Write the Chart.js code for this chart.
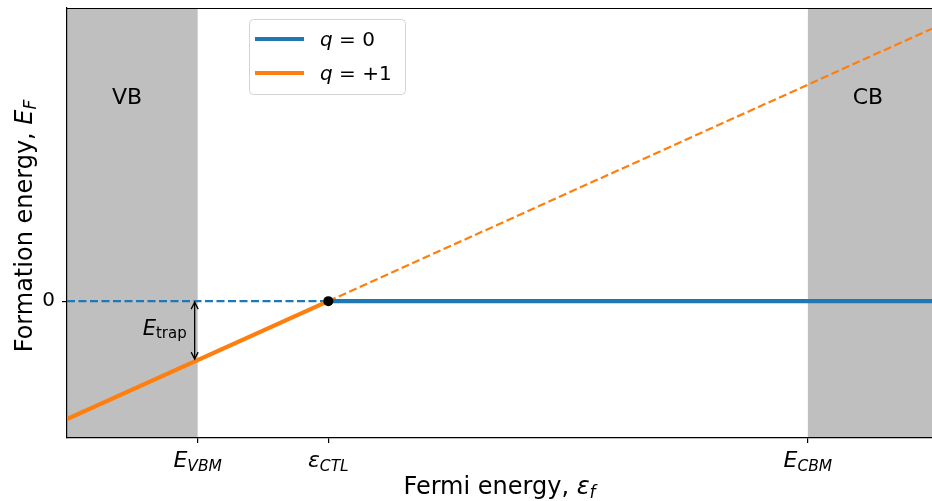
<!DOCTYPE html>
<html><head><meta charset="utf-8">
<script src="https://cdn.jsdelivr.net/npm/chart.js@4.4.0/dist/chart.umd.min.js"></script>
<style>html,body{margin:0;padding:0;background:#fff;} canvas{display:block;}</style>
</head><body>
<canvas id="c" width="932" height="501"></canvas>
<script>
// ---- data (Fermi energy on x, formation energy on y) ----
const fermiMin = -1;
const fermiMax = 5.62;
const energyMin = -2.32;
const energyMax = 4.97;
const xTickValues = [0, 1, 4.67];          // E_VBM, eps_CTL, E_CBM
const xTickSymbols = ['E', 'ε', 'E'];
const xTickSubs = ['VBM', 'CTL', 'CBM'];
const yTickValues = [0];
const yTickLabels = ['0'];
const leftX = [-1, 1];        // plot edge -> CTL
const rightX = [1, 5.62];     // CTL -> plot edge
const q0Left = [0, 0];
const q0Right = [0, 0];
const q1Left = [-2, 0];
const q1Right = [0, 4.62];
const ctlX = [1];
const ctlY = [0];
const trapRange = [0, -1];    // E_trap arrow (formation energy at VBM)
const seriesNames = ['0', '+1'];
const bandNames = ['VB', 'CB'];

const BLUE = '#1f77b4', ORANGE = '#ff7f0e', BAND = '#bfbfbf';
const FONT = '"DejaVu Sans", sans-serif';
const pts = (xs, ys) => xs.map((x, i) => ({ x, y: ys[i] }));

function drawRich(ctx, parts, x, y, align) {
  let w = 0;
  for (const p of parts) { ctx.font = p.font; w += ctx.measureText(p.text).width; }
  let cx = align === 'center' ? x - w / 2 : (align === 'right' ? x - w : x);
  ctx.textAlign = 'left'; ctx.textBaseline = 'alphabetic';
  for (const p of parts) {
    ctx.font = p.font;
    ctx.fillText(p.text, cx, y + (p.dy || 0));
    cx += ctx.measureText(p.text).width;
  }
}

const decor = {
  id: 'decor',
  beforeDraw(chart) {
    const { ctx, chartArea: a, scales: { x } } = chart;
    ctx.save();
    ctx.fillStyle = BAND;
    const xv = x.getPixelForValue(xTickValues[0]);
    const xc = x.getPixelForValue(xTickValues[2]);
    ctx.fillRect(a.left, a.top, xv - a.left, a.bottom - a.top);
    ctx.fillRect(xc, a.top, a.right - xc, a.bottom - a.top);
    ctx.restore();
  },
  afterDatasetsDraw(chart) {
    const { ctx, chartArea: a, scales: { x, y } } = chart;
    ctx.save();
    // top spine
    ctx.strokeStyle = '#000'; ctx.lineWidth = 1.2;
    ctx.beginPath(); ctx.moveTo(a.left, a.top + 0.5); ctx.lineTo(a.right, a.top + 0.5); ctx.stroke();
    // band labels
    ctx.fillStyle = '#000';
    ctx.font = '22px ' + FONT; ctx.textAlign = 'center'; ctx.textBaseline = 'middle';
    ctx.fillText(bandNames[0], x.getPixelForValue(-0.54), y.getPixelForValue(3.44));
    ctx.fillText(bandNames[1], x.getPixelForValue(5.13), y.getPixelForValue(3.44));
    // E_trap arrow
    const ax = x.getPixelForValue(xTickValues[0]) - 3;
    const y0 = y.getPixelForValue(trapRange[0]) + 1;
    const y1 = y.getPixelForValue(trapRange[1]) - 1;
    ctx.lineWidth = 1.3; ctx.strokeStyle = '#000';
    ctx.beginPath(); ctx.moveTo(ax, y0); ctx.lineTo(ax, y1); ctx.stroke();
    ctx.beginPath();
    ctx.moveTo(ax - 3.5, y0 + 7); ctx.lineTo(ax, y0); ctx.lineTo(ax + 3.5, y0 + 7);
    ctx.moveTo(ax - 3.5, y1 - 7); ctx.lineTo(ax, y1); ctx.lineTo(ax + 3.5, y1 - 7);
    ctx.stroke();
    drawRich(ctx, [
      { text: 'E', font: 'italic 21px ' + FONT },
      { text: 'trap', font: '15px ' + FONT, dy: 3 }
    ], ax - 8, (y0 + y1) / 2 + 4, 'right');
    // legend
    const lx = a.left + 182, ly = a.top + 11, lw = 156, lh = 75;
    ctx.fillStyle = 'rgba(255,255,255,0.85)';
    ctx.strokeStyle = '#d4d4d4'; ctx.lineWidth = 1;
    ctx.beginPath();
    ctx.roundRect(lx + 0.5, ly + 0.5, lw, lh, 4);
    ctx.fill(); ctx.stroke();
    const colors = [BLUE, ORANGE];
    for (let i = 0; i < 2; i++) {
      const yy = ly + 20 + i * 34;
      ctx.strokeStyle = colors[i]; ctx.lineWidth = 4.2;
      ctx.beginPath(); ctx.moveTo(lx + 6, yy); ctx.lineTo(lx + 55, yy); ctx.stroke();
      ctx.fillStyle = '#000';
      drawRich(ctx, [
        { text: 'q', font: 'italic 20px ' + FONT },
        { text: ' = ' + seriesNames[i], font: '20px ' + FONT }
      ], lx + 71, yy + 7, 'left');
    }
    ctx.restore();
  },
  afterDraw(chart) {
    const { ctx, chartArea: a, scales: { x } } = chart;
    ctx.save();
    ctx.fillStyle = '#000';
    for (let i = 0; i < xTickValues.length; i++) {
      drawRich(ctx, [
        { text: xTickSymbols[i], font: 'italic 22px ' + FONT },
        { text: xTickSubs[i], font: 'italic 15.5px ' + FONT, dy: 4 }
      ], x.getPixelForValue(xTickValues[i]), 467, 'center');
    }
    // x title
    drawRich(ctx, [
      { text: 'Fermi energy, ', font: '24px ' + FONT },
      { text: 'ε', font: 'italic 24px ' + FONT },
      { text: 'f', font: 'italic 17px ' + FONT, dy: 4 }
    ], (a.left + a.right) / 2, 494, 'center');
    // y title
    ctx.translate(32, (a.top + a.bottom) / 2 + 3);
    ctx.rotate(-Math.PI / 2);
    drawRich(ctx, [
      { text: 'Formation energy, ', font: '24px ' + FONT },
      { text: 'E', font: 'italic 24px ' + FONT },
      { text: 'F', font: 'italic 17px ' + FONT, dy: 4 }
    ], 0, 0, 'center');
    ctx.restore();
  }
};

const noPad = s => { s.paddingTop = 0; s.paddingBottom = 0; s.paddingLeft = 0; s.paddingRight = 0; };
const lineBase = { showLine: true, pointRadius: 0, borderCapStyle: 'butt', clip: 0, fill: false };
new Chart(document.getElementById('c'), {
  type: 'scatter',
  data: {
    datasets: [
      { label: 'CTL', data: pts(ctlX, ctlY), showLine: false, pointRadius: 5, pointBackgroundColor: '#000', pointBorderColor: '#000', pointBorderWidth: 0, order: 0 },
      { ...lineBase, label: 'q=+1', data: pts(leftX, q1Left), borderColor: ORANGE, borderWidth: 4.2, order: 1 },
      { ...lineBase, label: 'q=0', data: pts(rightX, q0Right), borderColor: BLUE, borderWidth: 4.2, order: 2 },
      { ...lineBase, label: 'q=+1 ext', data: pts(rightX, q1Right), borderColor: ORANGE, borderWidth: 2.2, borderDash: [8, 3.5], order: 3 },
      { ...lineBase, label: 'q=0 ext', data: pts(leftX, q0Left), borderColor: BLUE, borderWidth: 2.2, borderDash: [8, 3.5], order: 4 }
    ]
  },
  options: {
    responsive: false, animation: false, devicePixelRatio: 1,
    layout: { autoPadding: false, padding: { top: 8, right: 0, left: 0, bottom: 0 } },
    plugins: { legend: { display: false }, tooltip: { enabled: false } },
    scales: {
      x: {
        type: 'linear', min: fermiMin, max: fermiMax,
        afterBuildTicks: s => { s.ticks = xTickValues.map(v => ({ value: v })); },
        afterFit: s => { s.height = 63; noPad(s); },
        border: { display: true, color: '#000', width: 1.2 },
        grid: { display: true, drawOnChartArea: false, drawTicks: true, tickLength: 5, color: '#000', lineWidth: 1.2 },
        ticks: { display: false }
      },
      y: {
        type: 'linear', min: energyMin, max: energyMax,
        afterBuildTicks: s => { s.ticks = yTickValues.map(v => ({ value: v })); },
        afterFit: s => { s.width = 67; noPad(s); },
        border: { display: true, color: '#000', width: 1.2 },
        grid: { display: true, drawOnChartArea: false, drawTicks: true, tickLength: 5, color: '#000', lineWidth: 1.2 },
        ticks: { callback: (v, i) => yTickLabels[i], font: { family: 'DejaVu Sans', size: 20 }, color: '#000', padding: 7 }
      }
    }
  },
  plugins: [decor]
});
</script>
</body></html>
